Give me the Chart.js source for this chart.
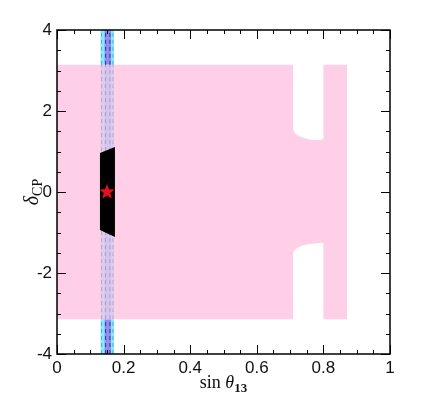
<!DOCTYPE html>
<html>
<head>
<meta charset="utf-8">
<script src="https://cdn.jsdelivr.net/npm/chart.js@4.4.0/dist/chart.umd.min.js"></script>
<style>
  html, body { margin: 0; padding: 0; background: #fff; }
  #wrap { width: 432px; height: 398px; }
</style>
</head>
<body>
<div id="wrap"><canvas id="myChart"></canvas></div>
<script>
// axis ticks
const xTicks = [0, 0.2, 0.4, 0.6, 0.8, 1];
const xTickLabels = ["0", "0.2", "0.4", "0.6", "0.8", "1"];
const yTicks = [-4, -2, 0, 2, 4];
const yTickLabels = ["-4", "-2", "0", "2", "4"];

// allowed region (pink), outline of the polygon
const allowedX = [0, 0, 0.709, 0.709, 0.712, 0.72, 0.735, 0.755, 0.775, 0.80, 0.80, 0.871,
                  0.871, 0.80, 0.80, 0.775, 0.755, 0.735, 0.72, 0.712, 0.709, 0.709];
const allowedY = [-3.14, 3.14, 3.14, 1.58, 1.48, 1.41, 1.35, 1.30, 1.28, 1.30, 3.14, 3.14,
                  -3.14, -3.14, -1.26, -1.27, -1.29, -1.33, -1.39, -1.45, -1.53, -3.14];

// best fit region (black)
const fitX = [0.129, 0.174, 0.174, 0.129];
const fitY = [0.96, 1.11, -1.11, -0.94];

// reactor bands
const outerBand = [0.131, 0.171];
const innerBand = [0.143, 0.162];
const outerLines = [0.134, 0.168];
const innerLines = [0.146, 0.159];
const dcpRange = [-3.14, 3.14];

// true value
const truePoint = [{ x: 0.15, y: 0 }];

function poly(xs, ys) {
  const pts = xs.map((x, i) => ({ x: x, y: ys[i] }));
  pts.push({ x: xs[0], y: ys[0] });
  return pts;
}
function rect(x0, x1, y0, y1) {
  return poly([x0, x0, x1, x1], [y0, y1, y1, y0]);
}
function area(data, color, order) {
  return {
    data: data, showLine: true, fill: "shape", backgroundColor: color,
    borderColor: "rgba(0,0,0,0)", borderWidth: 1, pointRadius: 0, order: order
  };
}
function dashed(x, y0, y1, color, order) {
  return {
    data: [{ x: x, y: y0 }, { x: x, y: y1 }], showLine: true, fill: false,
    borderColor: color, borderWidth: 1, borderDash: [4, 3], pointRadius: 0, order: order
  };
}

// filled red star for the true point
const star = document.createElement("canvas");
star.width = 18; star.height = 18;
(function () {
  const c = star.getContext("2d");
  c.beginPath();
  for (let i = 0; i < 10; i++) {
    const r = i % 2 === 0 ? 8 : 3.4;
    const a = -Math.PI / 2 + i * Math.PI / 5;
    c.lineTo(9 + r * Math.cos(a), 9 + r * Math.sin(a));
  }
  c.closePath();
  c.fillStyle = "#e3101b";
  c.fill();
})();

const datasets = [
  area(rect(outerBand[0], outerBand[1], -4, 4), "#8ce8fb", 20),
  area(rect(innerBand[0], innerBand[1], -4, 4), "#8f8cf6", 19),
  area(poly(allowedX, allowedY), "#ffcfe7", 18),
  area(rect(outerBand[0], outerBand[1], dcpRange[0], dcpRange[1]), "#e0ccec", 17),
  area(rect(innerBand[0], innerBand[1], dcpRange[0], dcpRange[1]), "#d4c4ee", 16),
  area(poly(fitX, fitY), "#000000", 10)
];
outerLines.forEach(x => {
  datasets.push(dashed(x, dcpRange[1], 4, "#3fb5c8", 12));
  datasets.push(dashed(x, -4, dcpRange[0], "#3fb5c8", 12));
  datasets.push(dashed(x, dcpRange[0], dcpRange[1], "#b3a8cc", 12));
});
innerLines.forEach(x => {
  datasets.push(dashed(x, dcpRange[1], 4, "#33338f", 12));
  datasets.push(dashed(x, -4, dcpRange[0], "#33338f", 12));
  datasets.push(dashed(x, dcpRange[0], dcpRange[1], "#a89dc8", 12));
});
datasets.push({
  data: truePoint, showLine: false, pointStyle: star, pointRadius: 9, order: 1
});

// frame, inward ticks on all four sides, axis titles
const framePlugin = {
  id: "frame",
  afterDatasetsDraw(chart) {
    const { ctx, chartArea: a, scales: { x, y } } = chart;
    ctx.save();
    ctx.strokeStyle = "#000";
    ctx.lineWidth = 1;
    function seg(x0, y0, x1, y1) {
      ctx.beginPath(); ctx.moveTo(x0, y0); ctx.lineTo(x1, y1); ctx.stroke();
    }
    for (let i = 0; i <= 20; i++) {
      const v = i * 0.05;
      const px = Math.round(x.getPixelForValue(v)) + 0.5;
      const len = i % 4 === 0 ? 9 : 4;
      seg(px, a.bottom, px, a.bottom - len);
      seg(px, a.top, px, a.top + len);
    }
    for (let i = 0; i <= 16; i++) {
      const v = -4 + i * 0.5;
      const py = Math.round(y.getPixelForValue(v)) + 0.5;
      const len = i % 4 === 0 ? 9 : 4;
      seg(a.left, py, a.left + len, py);
      seg(a.right, py, a.right - len, py);
    }
    ctx.lineWidth = 1.5;
    ctx.strokeRect(a.left, a.top, a.right - a.left, a.bottom - a.top);

    // x title: sin θ13
    ctx.fillStyle = "#111";
    ctx.textBaseline = "alphabetic";
    const cx = (a.left + a.right) / 2;
    const by = 388;
    const f1 = "18px 'Liberation Serif'";
    const f2 = "italic 18px 'Liberation Serif'";
    const f3 = "bold 13px 'Liberation Serif'";
    ctx.font = f1; const w1 = ctx.measureText("sin ").width;
    ctx.font = f2; const w2 = ctx.measureText("θ").width;
    ctx.font = f3; const w3 = ctx.measureText("13").width;
    let sx = cx - (w1 + w2 + w3) / 2;
    ctx.textAlign = "left";
    ctx.font = f1; ctx.fillText("sin ", sx, by); sx += w1;
    ctx.font = f2; ctx.fillText("θ", sx, by); sx += w2;
    ctx.font = f3; ctx.fillText("13", sx, by + 4);

    // y title: δCP
    ctx.save();
    ctx.translate(38, (a.top + a.bottom) / 2);
    ctx.rotate(-Math.PI / 2);
    const g1 = "italic 20px 'Liberation Serif'";
    const g2 = "14px 'Liberation Serif'";
    ctx.font = g1; const d1 = ctx.measureText("δ").width;
    ctx.font = g2; const d2 = ctx.measureText("CP").width;
    let sy = -(d1 + d2) / 2;
    ctx.font = g1; ctx.fillText("δ", sy, 0); sy += d1;
    ctx.font = g2; ctx.fillText("CP", sy, 4);
    ctx.restore();
    ctx.restore();
  }
};

const ctx = document.getElementById("myChart").getContext("2d");
window.chart = new Chart(ctx, {
  type: "scatter",
  data: { datasets: datasets },
  plugins: [framePlugin],
  options: {
    responsive: true,
    maintainAspectRatio: false,
    animation: false,
    layout: { padding: { top: 30, right: 42, left: 0, bottom: 0 } },
    plugins: { legend: { display: false }, tooltip: { enabled: false } },
    scales: {
      x: {
        type: "linear", min: 0, max: 1,
        afterFit: s => { s.height = 44; },
        afterBuildTicks: s => { s.ticks = xTicks.map(v => ({ value: v })); },
        grid: { display: false, drawTicks: false },
        border: { display: false },
        ticks: {
          padding: 4, color: "#111", maxRotation: 0,
          font: { family: "'Liberation Sans'", size: 17 },
          callback: (v) => xTickLabels[xTicks.indexOf(v)]
        }
      },
      y: {
        type: "linear", min: -4, max: 4,
        afterFit: s => { s.width = 57; },
        afterBuildTicks: s => { s.ticks = yTicks.map(v => ({ value: v })); },
        grid: { display: false, drawTicks: false },
        border: { display: false },
        ticks: {
          padding: 5, color: "#111",
          font: { family: "'Liberation Sans'", size: 17 },
          callback: (v) => yTickLabels[yTicks.indexOf(v)]
        }
      }
    }
  }
});
</script>
</body>
</html>
